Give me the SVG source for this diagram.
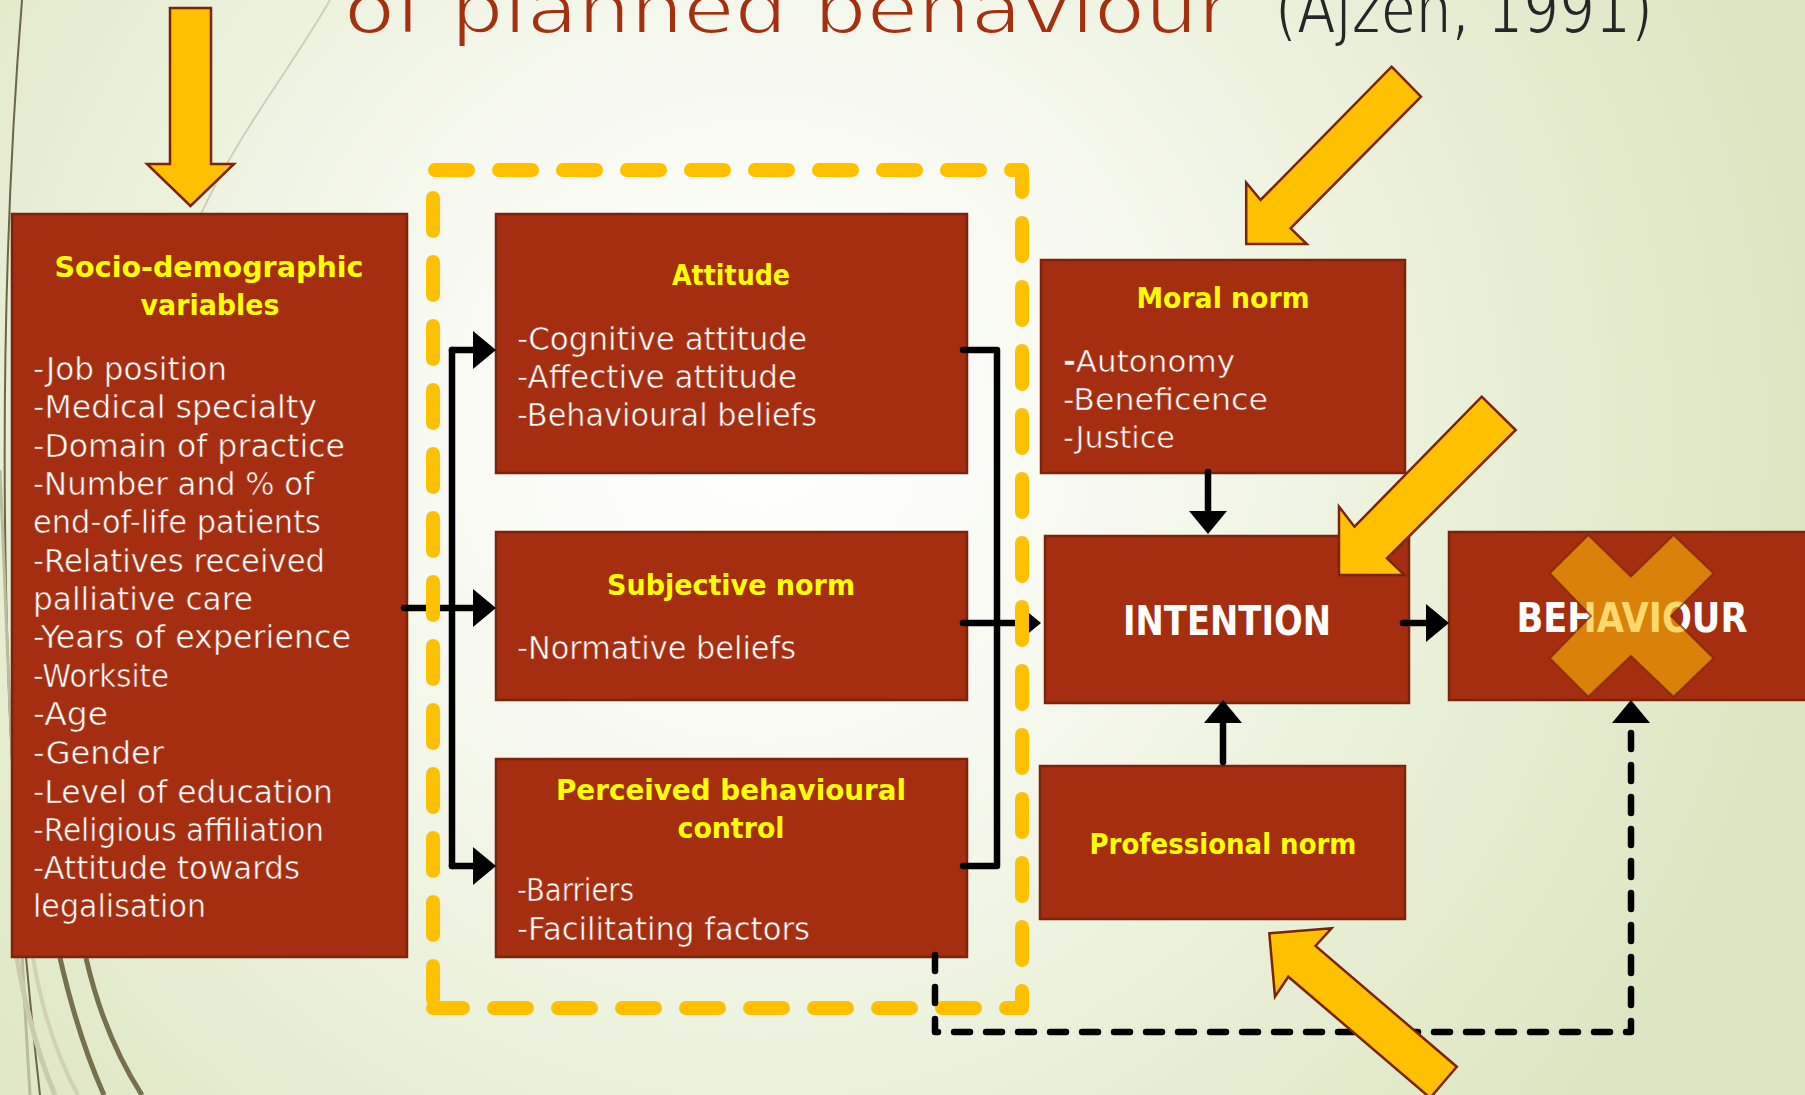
<svg xmlns="http://www.w3.org/2000/svg" width="1805" height="1095" viewBox="0 0 1805 1095">
<style>
.box{fill:#A52E10;stroke:#7B230B;stroke-width:2.5}
.hd{font-family:"DejaVu Sans","Liberation Sans",sans-serif;font-weight:bold;font-size:28.5px;fill:#FFFF00;text-anchor:middle}
.bd{font-family:"DejaVu Sans","Liberation Sans",sans-serif;font-size:31.5px;fill:#FFFFFF;stroke:#A52E10;stroke-width:0.6}
.big{font-family:"DejaVu Sans","Liberation Sans",sans-serif;font-weight:bold;fill:#FFFFFF;text-anchor:middle}
.ln{fill:none;stroke:#000;stroke-width:6.5;stroke-linecap:round;stroke-linejoin:round}
.dash{fill:none;stroke:#000;stroke-width:6.5;stroke-linecap:round;stroke-linejoin:round;stroke-dasharray:16 16}
.ydash{fill:none;stroke:#FFC000;stroke-width:14;stroke-linecap:round;stroke-linejoin:round;stroke-dasharray:33 31}
.yarrow{fill:#FFC000;stroke:#7B230B;stroke-width:2.5;stroke-linejoin:miter}
.ttl{font-family:"DejaVu Sans","Liberation Sans",sans-serif;font-size:70px;stroke:url(#bg);stroke-width:2}
</style>
<defs>
<radialGradient id="bg" gradientUnits="userSpaceOnUse" cx="760" cy="430" r="1050">
<stop offset="0" stop-color="#FFFFFF"/>
<stop offset="0.35" stop-color="#F7F9F0"/>
<stop offset="0.75" stop-color="#E6EDD2"/>
<stop offset="1" stop-color="#DDE6C3"/>
</radialGradient>
<marker id="ah" markerUnits="userSpaceOnUse" markerWidth="23" markerHeight="38" viewBox="0 0 23 38" refX="3" refY="19" orient="auto">
<path d="M0,0 L23,19 L0,38 Z" fill="#000"/>
</marker>
</defs>
<rect x="0" y="0" width="1805" height="1095" fill="url(#bg)"/>
<g id="decor" fill="none">
<path d="M330,0 C290,70 240,130 201,214" stroke="#CDD0BC" stroke-width="2"/>
<path d="M22,0 C10,150 3,320 5,520 C7,720 16,880 40,1095" stroke="#6B6648" stroke-width="2"/>
<path d="M0,470 C6,600 10,760 30,1095" stroke="#B9BC9E" stroke-width="3"/>
<path d="M17,958 C26,1010 38,1055 55,1095" stroke="#C8CBAE" stroke-width="5"/>
<path d="M33,958 C42,1010 56,1055 78,1095" stroke="#CFD2B6" stroke-width="4"/>
<path d="M60,958 C72,1010 86,1055 104,1095" stroke="#77704F" stroke-width="5"/>
<path d="M86,958 C98,1010 116,1055 142,1095" stroke="#77704F" stroke-width="5"/>
</g>
<g id="title">
<text class="ttl" x="344" y="33" fill="#A5300F" textLength="888" lengthAdjust="spacingAndGlyphs">of planned behaviour</text>
<text class="ttl" x="1275" y="33" fill="#262626" textLength="378" lengthAdjust="spacingAndGlyphs">(Ajzen, 1991)</text>
</g>
<g id="socio">
<rect class="box" x="12" y="214" width="395" height="743"/>
<text class="hd" x="209" y="277" textLength="309" lengthAdjust="spacingAndGlyphs">Socio-demographic</text>
<text class="hd" x="210" y="315" textLength="139" lengthAdjust="spacingAndGlyphs">variables</text>
<text class="bd" x="33" y="380" textLength="194" lengthAdjust="spacingAndGlyphs">-Job position</text>
<text class="bd" x="33" y="418" textLength="284" lengthAdjust="spacingAndGlyphs">-Medical specialty</text>
<text class="bd" x="33" y="457" textLength="312" lengthAdjust="spacingAndGlyphs">-Domain of practice</text>
<text class="bd" x="33" y="495" textLength="281" lengthAdjust="spacingAndGlyphs">-Number and % of</text>
<text class="bd" x="33" y="533" textLength="288" lengthAdjust="spacingAndGlyphs">end-of-life patients</text>
<text class="bd" x="33" y="572" textLength="292" lengthAdjust="spacingAndGlyphs">-Relatives received</text>
<text class="bd" x="33" y="610" textLength="220" lengthAdjust="spacingAndGlyphs">palliative care</text>
<text class="bd" x="33" y="648" textLength="318" lengthAdjust="spacingAndGlyphs">-Years of experience</text>
<text class="bd" x="33" y="687" textLength="136" lengthAdjust="spacingAndGlyphs">-Worksite</text>
<text class="bd" x="33" y="725" textLength="75" lengthAdjust="spacingAndGlyphs">-Age</text>
<text class="bd" x="33" y="764" textLength="131" lengthAdjust="spacingAndGlyphs">-Gender</text>
<text class="bd" x="33" y="803" textLength="300" lengthAdjust="spacingAndGlyphs">-Level of education</text>
<text class="bd" x="33" y="841" textLength="291" lengthAdjust="spacingAndGlyphs">-Religious affiliation</text>
<text class="bd" x="33" y="879" textLength="267" lengthAdjust="spacingAndGlyphs">-Attitude towards</text>
<text class="bd" x="33" y="917" textLength="173" lengthAdjust="spacingAndGlyphs">legalisation</text>
</g>
<g id="attitude">
<rect class="box" x="496" y="214" width="471" height="259"/>
<text class="hd" x="731" y="285" textLength="118" lengthAdjust="spacingAndGlyphs">Attitude</text>
<text class="bd" x="517" y="350" textLength="290" lengthAdjust="spacingAndGlyphs">-Cognitive attitude</text>
<text class="bd" x="517" y="388" textLength="280" lengthAdjust="spacingAndGlyphs">-Affective attitude</text>
<text class="bd" x="517" y="426" textLength="300" lengthAdjust="spacingAndGlyphs">-Behavioural beliefs</text>
</g>
<g id="subjective-norm">
<rect class="box" x="496" y="532" width="471" height="168"/>
<text class="hd" x="731" y="595" textLength="248" lengthAdjust="spacingAndGlyphs">Subjective norm</text>
<text class="bd" x="517" y="659" textLength="279" lengthAdjust="spacingAndGlyphs">-Normative beliefs</text>
</g>
<g id="perceived-behavioural-control">
<rect class="box" x="496" y="759" width="471" height="198"/>
<text class="hd" x="731" y="800" textLength="350" lengthAdjust="spacingAndGlyphs">Perceived behavioural</text>
<text class="hd" x="731" y="838" textLength="107" lengthAdjust="spacingAndGlyphs">control</text>
<text class="bd" x="517" y="901" textLength="117" lengthAdjust="spacingAndGlyphs">-Barriers</text>
<text class="bd" x="517" y="940" textLength="293" lengthAdjust="spacingAndGlyphs">-Facilitating factors</text>
</g>
<g id="moral-norm">
<rect class="box" x="1041" y="260" width="364" height="213"/>
<text class="hd" x="1223" y="308" textLength="173" lengthAdjust="spacingAndGlyphs">Moral norm</text>
<text class="bd" x="1063" y="372" style="font-size:30px" textLength="172" lengthAdjust="spacingAndGlyphs"><tspan font-weight="bold">-</tspan>Autonomy</text>
<text class="bd" x="1063" y="410" style="font-size:30px" textLength="205" lengthAdjust="spacingAndGlyphs">-Beneficence</text>
<text class="bd" x="1063" y="448" style="font-size:30px" textLength="112" lengthAdjust="spacingAndGlyphs">-Justice</text>
</g>
<g id="intention">
<rect class="box" x="1045" y="536" width="364" height="167"/>
<text class="big" x="1227" y="635" style="font-size:41px" textLength="208" lengthAdjust="spacingAndGlyphs">INTENTION</text>
</g>
<g id="professional-norm">
<rect class="box" x="1040" y="766" width="365" height="153"/>
<text class="hd" x="1223" y="854" textLength="267" lengthAdjust="spacingAndGlyphs">Professional norm</text>
</g>
<g id="behaviour">
<rect class="box" x="1449" y="532" width="380" height="168"/>
<text class="big" x="1632" y="632" style="font-size:40px" textLength="231" lengthAdjust="spacingAndGlyphs">BEHAVIOUR</text>
</g>
<g id="connectors">
<path class="ln" d="M404,608 H476" marker-end="url(#ah)"/>
<path class="ln" d="M452,350 V866"/>
<path class="ln" d="M452,350 H476" marker-end="url(#ah)"/>
<path class="ln" d="M452,866 H476" marker-end="url(#ah)"/>
<path class="ln" d="M963,350 H997 V866 H963"/>
<path class="ln" d="M963,623 H1021" marker-end="url(#ah)"/>
<path class="ln" d="M1208,472 V514" marker-end="url(#ah)"/>
<path class="ln" d="M1223,762 V720" marker-end="url(#ah)"/>
<path class="ln" d="M1403,623 H1429" marker-end="url(#ah)"/>
</g>
<g id="tpb-frame">
<path class="ydash" d="M433,170 H1022 V1008 H433" stroke-dashoffset="-2"/>
<path class="ydash" d="M433,1008 V170" stroke-dashoffset="55"/>
</g>
<g id="connector-dashed">
<path class="dash" d="M935,955 V1032 H1631 V720" marker-end="url(#ah)"/>
</g>
<g id="cross">
<polygon points="1588.3,535 1630.9,576.7 1673.5,535 1713.5,573.3 1671,616 1713.5,658.3 1673.5,696.7 1630.9,656 1588.3,696.7 1549.8,658.3 1590.9,616 1549.8,573.3" fill="#FFBE06" fill-opacity="0.58" stroke="#7B230B" stroke-opacity="0.7" stroke-width="2"/>
</g>
<g id="highlight-arrows">
<polygon class="yarrow" points="170,8 211,8 211,164 234,164 190.5,206 147,164 170,164"/>
<polygon class="yarrow" points="1391.6,66.7 1421,96.7 1290.6,228.3 1306.8,244 1246.2,244 1246.2,182.7 1260.6,200"/>
<polygon class="yarrow" points="1481.7,396.7 1515.7,430 1387,558.3 1404.6,575 1339,575 1339,506.7 1354.5,526.7"/>
<polygon class="yarrow" points="1269.3,933.3 1331.6,928.3 1315.5,946 1456.8,1066.7 1430.2,1097.9 1288.3,976.7 1275,996.7"/>
</g>
</svg>
